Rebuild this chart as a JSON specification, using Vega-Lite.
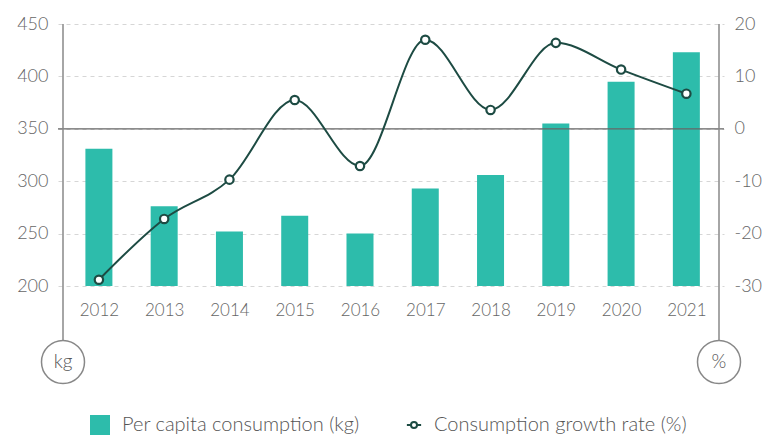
{
  "$schema": "https://vega.github.io/schema/vega-lite/v6.json",
  "description": "Per capita consumption (bars, left axis) and consumption growth rate (line, right axis), 2012-2021.",
  "autosize": "none",
  "width": 666,
  "height": 262,
  "padding": {"left": 58, "top": 24, "right": 44, "bottom": 154},
  "background": "white",
  "config": {
    "font": "Lato",
    "view": {"stroke": null},
    "axis": {"labelColor": "#666", "labelFontSize": 18, "labelFontWeight": 300, "ticks": false, "domain": false, "title": null},
    "legend": {"labelColor": "#555", "labelFontSize": 20, "labelFontWeight": 300, "labelLimit": 400, "title": null}
  },
  "data": {
    "values": [
      {"year": 2012, "consumption": 331, "growth": -28.8},
      {"year": 2013, "consumption": 276, "growth": -17.2},
      {"year": 2014, "consumption": 252, "growth": -9.7},
      {"year": 2015, "consumption": 267, "growth": 5.5},
      {"year": 2016, "consumption": 250, "growth": -7.1},
      {"year": 2017, "consumption": 293, "growth": 17.0},
      {"year": 2018, "consumption": 306, "growth": 3.6},
      {"year": 2019, "consumption": 355, "growth": 16.4},
      {"year": 2020, "consumption": 395, "growth": 11.3},
      {"year": 2021, "consumption": 423, "growth": 6.7}
    ]
  },
  "layer": [
    {
      "layer": [
        {
          "mark": {"type": "bar", "width": 27},
          "encoding": {
            "x": {
              "field": "year", "type": "quantitative",
              "scale": {"domain": [2011.45, 2021.5], "nice": false, "zero": false},
              "axis": {"values": [2012, 2013, 2014, 2015, 2016, 2017, 2018, 2019, 2020, 2021], "format": "d", "grid": false, "labelPadding": 16, "labelFontSize": 17}
            },
            "y": {
              "field": "consumption", "type": "quantitative",
              "scale": {"domain": [200, 450], "nice": false, "zero": false},
              "axis": {"values": [200, 250, 300, 350, 400, 450], "grid": true, "gridColor": "#d6d6d6", "gridDash": [4, 4], "labelPadding": 10}
            },
            "y2": {"datum": 200},
            "fill": {
              "datum": "Per capita consumption (kg)",
              "scale": {"range": ["#2dbcab"]},
              "legend": {"symbolType": "square", "symbolSize": 400, "orient": "none", "legendX": 32, "legendY": 391, "symbolStrokeWidth": 0, "labelOffset": 12}
            }
          }
        },
        {
          "data": {"values": [{"zero": 0}]},
          "mark": {"type": "rule", "color": "#666", "strokeWidth": 1.2},
          "encoding": {"y": {"datum": 350}}
        },
        {
          "data": {"values": [{"unit": "kg", "side": 2011.45}, {"unit": "%", "side": 2021.5}]},
          "layer": [
            {
              "mark": {"type": "rule", "color": "#888", "strokeWidth": 1.5},
              "encoding": {"x": {"field": "side", "type": "quantitative"}, "y": {"datum": 450}, "y2": {"datum": 148}}
            },
            {
              "mark": {"type": "point", "shape": "circle", "size": 1850, "filled": true, "fill": "white", "stroke": "#888", "strokeWidth": 1.5, "opacity": 1},
              "encoding": {"x": {"field": "side", "type": "quantitative"}, "y": {"datum": 127.5}}
            },
            {
              "mark": {"type": "text", "fontSize": 19, "fontWeight": 300, "color": "#555", "baseline": "middle", "align": "center"},
              "encoding": {"x": {"field": "side", "type": "quantitative"}, "y": {"datum": 127.5}, "text": {"field": "unit"}}
            }
          ]
        }
      ]
    },
    {
      "mark": {
        "type": "line", "interpolate": "monotone", "strokeWidth": 2,
        "point": {"filled": true, "fill": "white", "size": 70, "strokeWidth": 2.2, "stroke": "#1d4b43"}
      },
      "encoding": {
        "x": {"field": "year", "type": "quantitative"},
        "y": {
          "field": "growth", "type": "quantitative",
          "scale": {"domain": [-30, 20], "nice": false, "zero": false},
          "axis": {"orient": "right", "values": [-30, -20, -10, 0, 10, 20], "labelExpr": "'' + datum.value", "grid": false, "labelPadding": 10}
        },
        "stroke": {
          "datum": "Consumption growth rate (%)",
          "scale": {"range": ["#1d4b43"]},
          "legend": {
            "orient": "none", "legendX": 346, "legendY": 391, "labelOffset": 10,
            "symbolType": "M-1.3,0L-0.55,0M0.55,0L1.3,0M0.55,0A0.55,0.55,0,1,1,-0.55,0A0.55,0.55,0,1,1,0.55,0",
            "symbolFillColor": "white", "symbolStrokeWidth": 2, "symbolSize": 120
          }
        }
      }
    }
  ],
  "resolve": {"scale": {"y": "independent"}}
}
